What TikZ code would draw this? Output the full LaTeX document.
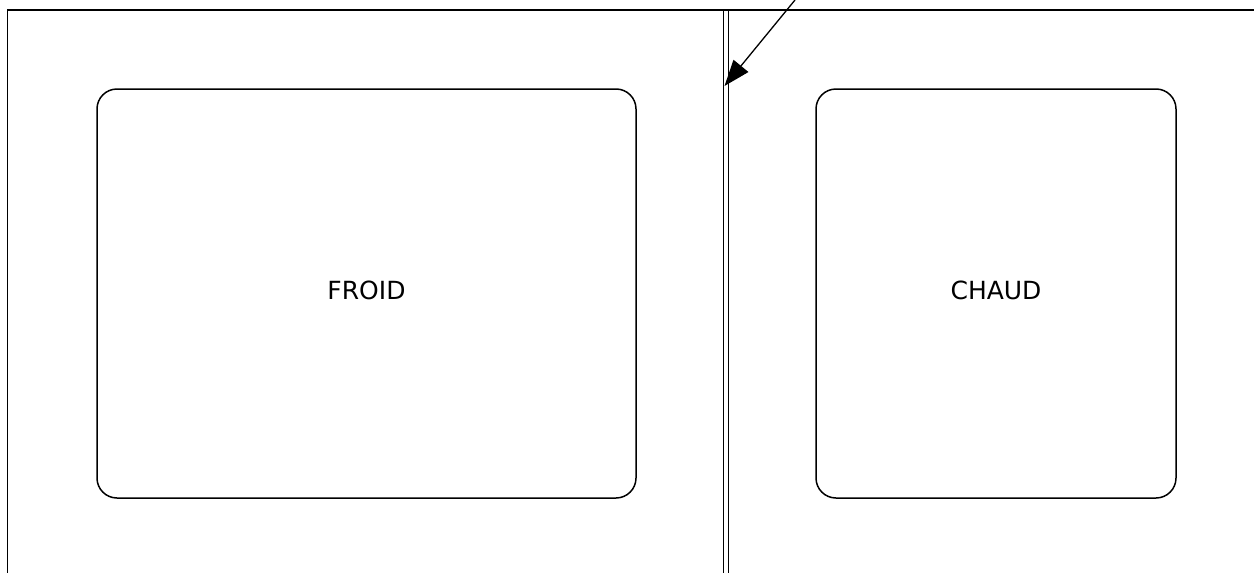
\documentclass[tikz,border=0pt]{standalone}
\usepackage{fontspec}
\setmainfont{DejaVu Sans}
\usetikzlibrary{arrows.meta}
\begin{document}
\begin{tikzpicture}[x=1pt,y=-1pt,
  frame/.style={line width=1.6pt},
  wall/.style={line width=1.3pt},
  room/.style={draw,line width=1.5pt,rounded corners=20pt,inner sep=0pt,font=\fontsize{25}{30}\selectfont},
  pointer/.style={line width=1.3pt,-{Triangle[length=26pt,width=19pt]}}]
\useasboundingbox (0,0) rectangle (1254,573);
% outer frame
\coordinate (tl) at (7.5,10);
\coordinate (tr) at (1254,10);
\coordinate (bl) at (7.5,573);
\draw[frame] (bl) -- (tl) -- (tr);
% double wall
\coordinate (w1t) at (723.5,10);
\coordinate (w1b) at (723.5,573);
\coordinate (w2t) at (728.5,10);
\coordinate (w2b) at (728.5,573);
\draw[wall] (w1t) -- (w1b);
\draw[wall] (w2t) -- (w2b);
% rooms
\node[room,minimum width=539pt,minimum height=409pt] (froid) at (366.5,293.5) {\raisebox{6pt}{FROID}};
\node[room,minimum width=360pt,minimum height=409pt] (chaud) at (996,293.5) {\raisebox{6pt}{CHAUD}};
% pointer
\coordinate (p0) at (795,0);
\coordinate (p1) at (724.5,86);
\draw[pointer] (p0) -- (p1);
\end{tikzpicture}
\end{document}
